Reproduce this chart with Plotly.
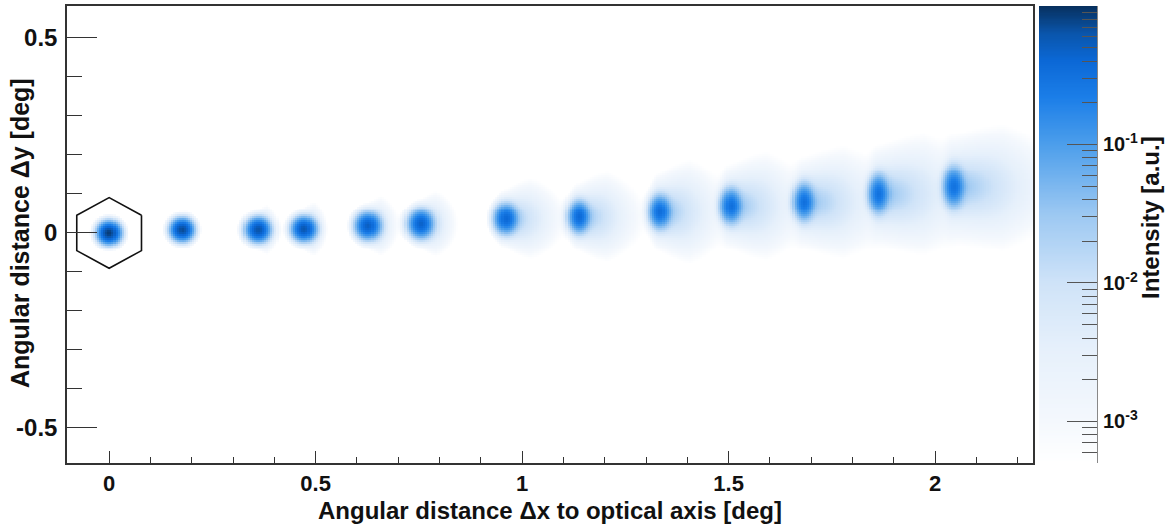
import numpy as np
import plotly.graph_objects as go

W, H = 1168, 524

# ---- spot parameters (deg, intensity a.u.) ----
spot_x = [0.0, 0.177, 0.361, 0.472, 0.627, 0.755, 0.961, 1.138, 1.334, 1.506, 1.683, 1.864, 2.046]
spot_y = [0.0, 0.008, 0.008, 0.010, 0.018, 0.023, 0.036, 0.041, 0.054, 0.069, 0.079, 0.100, 0.118]
core_peak = [0.85, 0.7, 0.6, 0.55, 0.45, 0.42, 0.35, 0.33, 0.3, 0.28, 0.27, 0.26, 0.25]
core_sx = [0.0125, 0.0125, 0.0135, 0.0135, 0.014, 0.014, 0.013, 0.012, 0.012, 0.012, 0.012, 0.012, 0.012]
core_sy = [0.0125, 0.0125, 0.0135, 0.0135, 0.015, 0.016, 0.017, 0.018, 0.019, 0.020, 0.021, 0.022, 0.023]
halo_peak = [0.02, 0.03, 0.06, 0.06, 0.06, 0.06, 0.06, 0.058, 0.056, 0.054, 0.052, 0.05, 0.048]
halo_lx = [0.006, 0.007, 0.011, 0.012, 0.016, 0.019, 0.031, 0.034, 0.037, 0.043, 0.049, 0.055, 0.060]
halo_ly = [0.006, 0.007, 0.010, 0.011, 0.012, 0.013, 0.016, 0.018, 0.021, 0.022, 0.023, 0.025, 0.026]

# camera pixel (hexagon) drawn around the on-axis spot
pixel_center = (0.0, 0.0)
pixel_radius = 0.0905

x_range = [-0.102, 2.237]
y_range = [-0.59, 0.582]
x_ticks = [0, 0.5, 1, 1.5, 2]
x_tick_text = ["0", "0.5", "1", "1.5", "2"]
y_ticks = [-0.5, 0, 0.5]
y_tick_text = ["-0.5", "0", "0.5"]
cb_log_min, cb_log_max = -3.3, 0.0
cb_ticks = [-3, -2, -1]
cb_tick_text = ["10<sup>-3</sup>", "10<sup>-2</sup>", "10<sup>-1</sup>"]

# ---- build histogram ----
bin_w = 0.005
xc = np.arange(x_range[0], x_range[1] + bin_w, bin_w)
yc = np.arange(y_range[0], y_range[1] + bin_w, bin_w)
X, Y = np.meshgrid(xc, yc)
I = np.zeros_like(X)
for i in range(len(spot_x)):
    x0, y0 = spot_x[i], spot_y[i]
    I += core_peak[i] * np.exp(-0.5 * (((X - x0) / core_sx[i]) ** 2 + ((Y - y0) / core_sy[i]) ** 2))
    dxr = X - x0
    lx = np.where(dxr > 0, halo_lx[i], halo_lx[0])
    u = dxr / lx
    fan = 1.0 + 0.25 * np.clip(dxr / halo_lx[i], 0, 2)
    v = (Y - y0) / (halo_ly[i] * fan)
    I += halo_peak[i] * np.exp(-np.sqrt(u ** 2 + v ** 2))
Z = np.where(I > 10 ** cb_log_min, np.log10(np.maximum(I, 1e-12)), np.nan)
Z = np.minimum(Z, cb_log_max)

colorscale = [
    [0.00, "#ffffff"],
    [0.09, "#f4f8fd"],
    [0.25, "#e6f0fb"],
    [0.394, "#cfe3f8"],
    [0.545, "#9cc8f2"],
    [0.697, "#4c9eeb"],
    [0.80, "#1b7ee8"],
    [0.88, "#0b68d6"],
    [0.94, "#0a55ab"],
    [1.00, "#07305e"],
]

fig = go.Figure()
fig.add_trace(go.Heatmap(
    x=xc, y=yc, z=Z, zmin=cb_log_min, zmax=cb_log_max, colorscale=colorscale,
    showscale=False, hoverinfo="skip", xaxis="x", yaxis="y",
))

ang = np.deg2rad(np.arange(30, 391, 60))
hex_x = pixel_center[0] + pixel_radius * np.cos(ang)
hex_y = pixel_center[1] + pixel_radius * np.sin(ang)
fig.add_trace(go.Scatter(x=hex_x, y=hex_y, mode="lines", line=dict(color="#111111", width=1.6),
                         hoverinfo="skip", showlegend=False, xaxis="x", yaxis="y"))

# colour bar as its own axes
levels = np.linspace(cb_log_min, cb_log_max, 400)
fig.add_trace(go.Heatmap(
    x=[0], y=levels, z=[[v] for v in levels], zmin=cb_log_min, zmax=cb_log_max,
    colorscale=colorscale, showscale=False, hoverinfo="skip", xaxis="x2", yaxis="y2",
))

minor_vals = [np.log10(k * 10.0 ** n) for n in range(-4, 0) for k in range(2, 10)
              if cb_log_min <= np.log10(k * 10.0 ** n) <= cb_log_max]


def px_x(p):
    return p / W


def px_y(p):
    return 1 - p / H


font_b = dict(family="Liberation Sans, Arial, sans-serif", size=25, color="#111111", weight="bold")
xtick_font = dict(font_b, size=22)
ytick_font = dict(font_b, size=24)

fig.update_layout(
    width=W, height=H, margin=dict(l=0, r=0, t=0, b=0, autoexpand=False),
    paper_bgcolor="white", plot_bgcolor="white", showlegend=False,
    xaxis=dict(domain=[px_x(67), px_x(1033)], range=x_range, anchor="y", automargin=False,
               tickvals=x_ticks, ticktext=x_tick_text, ticks="inside", ticklen=12, tickwidth=1,
               tickcolor="#333", minor=dict(dtick=0.1, tick0=0, ticks="inside", ticklen=6, tickcolor="#333"),
               showline=True, linecolor="#333", linewidth=1.5, mirror=True, showgrid=False,
               zeroline=False, tickfont=xtick_font, ticklabelstandoff=0),
    yaxis=dict(domain=[px_y(463), px_y(6)], range=y_range, anchor="x", automargin=False,
               tickvals=y_ticks, ticktext=y_tick_text, ticks="inside", ticklen=30, tickwidth=1,
               tickcolor="#333", minor=dict(dtick=0.1, tick0=0, ticks="inside", ticklen=15, tickcolor="#333"),
               showline=True, linecolor="#333", linewidth=1.5, mirror=True, showgrid=False,
               zeroline=False, tickfont=ytick_font, ticklabelstandoff=3),
    xaxis2=dict(domain=[px_x(1039), px_x(1097)], range=[-0.5, 0.5], anchor="y2", automargin=False,
                showticklabels=False, ticks="", showline=False, showgrid=False, zeroline=False),
    yaxis2=dict(domain=[px_y(463), px_y(6)], range=[cb_log_min, cb_log_max], anchor="x2", side="right",
                automargin=False,
                tickvals=cb_ticks, ticktext=cb_tick_text, ticks="inside", ticklen=30, tickwidth=1,
                tickcolor="#555", minor=dict(tickmode="array", tickvals=minor_vals, ticks="inside",
                                             ticklen=15, tickcolor="#555"),
                showline=True, linecolor="#888", linewidth=1, showgrid=False, zeroline=False,
                tickfont=dict(font_b, size=20), ticklabelstandoff=1),
    annotations=[
        dict(text="Angular distance \u0394x to optical axis [deg]", xref="paper", yref="paper",
             x=px_x(550), y=px_y(510), showarrow=False, font=dict(font_b, size=24),
             xanchor="center", yanchor="middle"),
        dict(text="Angular distance \u0394y [deg]", xref="paper", yref="paper",
             x=px_x(20), y=px_y(233), showarrow=False, font=font_b, textangle=-90,
             xanchor="center", yanchor="middle"),
        dict(text="Intensity [a.u.]", xref="paper", yref="paper",
             x=px_x(1151), y=px_y(218), showarrow=False, font=dict(font_b, size=24), textangle=-90,
             xanchor="center", yanchor="middle"),
    ],
)

fig.write_html("out.html", config={"displayModeBar": False},
               post_script="document.body.style.margin='0';document.body.style.overflow='hidden';")
